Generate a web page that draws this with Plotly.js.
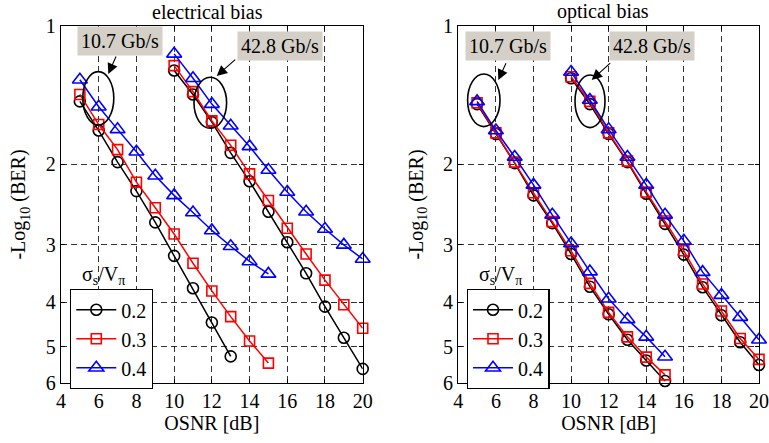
<!DOCTYPE html>
<html>
<head>
<meta charset="utf-8">
<script src="https://cdn.plot.ly/plotly-3.0.1.min.js"></script>
<style>html,body{margin:0;padding:0;background:#fff;}#chart{width:769px;height:443px;}</style>
</head>
<body>
<div id="chart"></div>
<script>
// ---- data ----
const osnr10 = [5, 6, 7, 8, 9, 10, 11, 12, 13, 14, 15];
const osnr40 = [10, 11, 12, 13, 14, 15, 16, 17, 18, 19, 20];
const sigmaLabels = ['0.2', '0.3', '0.4'];

// electrical bias
const elec10_s02 = [1.46, 1.69, 1.98, 2.29, 2.68, 3.17, 3.73, 4.43, 5.25];
const elec10_s03 = [1.41, 1.64, 1.86, 2.19, 2.49, 2.84, 3.29, 3.78, 4.30, 4.86, 5.43];
const elec10_s04 = [1.31, 1.50, 1.68, 1.88, 2.12, 2.34, 2.55, 2.79, 3.02, 3.26, 3.47];
const elec40_s02 = [1.25, 1.41, 1.62, 1.89, 2.18, 2.54, 2.96, 3.46, 4.09, 4.78, 5.59];
const elec40_s03 = [1.22, 1.39, 1.61, 1.82, 2.10, 2.40, 2.76, 3.14, 3.58, 4.05, 4.56];
const elec40_s04 = [1.15, 1.30, 1.48, 1.65, 1.83, 2.06, 2.30, 2.54, 2.77, 3.00, 3.22];

// optical bias
const opt10_s02 = [1.48, 1.72, 1.99, 2.34, 2.69, 3.14, 3.70, 4.25, 4.83, 5.36, 5.94];
const opt10_s03 = [1.47, 1.71, 1.98, 2.31, 2.67, 3.09, 3.64, 4.21, 4.76, 5.27, 5.76];
const opt10_s04 = [1.46, 1.69, 1.93, 2.22, 2.58, 2.98, 3.43, 3.93, 4.36, 4.76, 5.26];
const opt40_s02 = [1.30, 1.48, 1.72, 1.98, 2.32, 2.70, 3.15, 3.71, 4.27, 4.89, 5.48];
const opt40_s03 = [1.29, 1.46, 1.71, 1.97, 2.30, 2.66, 3.09, 3.65, 4.18, 4.80, 5.33];
const opt40_s04 = [1.26, 1.45, 1.68, 1.93, 2.22, 2.58, 2.94, 3.44, 3.86, 4.31, 4.83];

const xTicks = [4, 6, 8, 10, 12, 14, 16, 18, 20];
const yTicks = [1, 2, 3, 4, 5, 6];

// ---- styling ----
const FONT = 'Liberation Serif';
const colors = ['#000000', '#ff0000', '#0000ff'];
const symbols = ['circle-open', 'square-open', 'triangle-up-open'];
const msizes = [11, 10, 13];

function mk(x, y, i, xa, ya, leg, grp, show) {
  return {
    x: x.slice(0, y.length), y: y, type: 'scatter', mode: 'lines+markers',
    name: sigmaLabels[i], legendgroup: grp + i, showlegend: show, legend: leg,
    xaxis: xa, yaxis: ya, cliponaxis: false,
    line: {color: colors[i], width: 1.5},
    marker: {symbol: symbols[i], size: msizes[i], color: colors[i], line: {color: colors[i], width: 1.6}}
  };
}

const data = [
  mk(osnr10, elec10_s02, 0, 'x', 'y', 'legend', 'E', true),
  mk(osnr40, elec40_s02, 0, 'x', 'y', 'legend', 'E', false),
  mk(osnr10, elec10_s03, 1, 'x', 'y', 'legend', 'E', true),
  mk(osnr40, elec40_s03, 1, 'x', 'y', 'legend', 'E', false),
  mk(osnr10, elec10_s04, 2, 'x', 'y', 'legend', 'E', true),
  mk(osnr40, elec40_s04, 2, 'x', 'y', 'legend', 'E', false),
  mk(osnr10, opt10_s02, 0, 'x2', 'y2', 'legend2', 'O', true),
  mk(osnr40, opt40_s02, 0, 'x2', 'y2', 'legend2', 'O', false),
  mk(osnr10, opt10_s03, 1, 'x2', 'y2', 'legend2', 'O', true),
  mk(osnr40, opt40_s03, 1, 'x2', 'y2', 'legend2', 'O', false),
  mk(osnr10, opt10_s04, 2, 'x2', 'y2', 'legend2', 'O', true),
  mk(osnr40, opt40_s04, 2, 'x2', 'y2', 'legend2', 'O', false)
];

// pixel -> paper helpers (plot area: x 61..759, y 26..383)
const L = 61, R = 759, T = 26, B = 383;
const px = v => (v - L) / (R - L);
const py = v => (B - v) / (B - T);
const F20 = () => ({family: FONT, size: 20, color: '#000'});

function xaxis(domain, anchor) {
  return {
    domain: domain, anchor: anchor, range: [4, 20], tickvals: xTicks, ticktext: xTicks.map(String),
    ticks: 'inside', ticklen: 4, tickcolor: '#000', mirror: 'ticks', showline: true, linecolor: '#000', linewidth: 1.3,
    showgrid: true, gridcolor: '#000', gridwidth: 0.8, griddash: '6px,4px', zeroline: false,
    tickfont: F20(),
    title: {text: 'OSNR [dB]', font: F20(), standoff: 4}
  };
}
function yaxis(anchor) {
  return {
    anchor: anchor, type: 'log', range: [Math.log10(6), 0], tickvals: yTicks, ticktext: yTicks.map(String),
    ticks: 'inside', ticklen: 4, tickcolor: '#000', mirror: 'ticks', showline: true, linecolor: '#000', linewidth: 1.3,
    showgrid: true, gridcolor: '#000', gridwidth: 0.8, griddash: '6px,4px', zeroline: false,
    tickfont: F20(),
    title: {text: '-Log<sub>10</sub> (BER)', font: F20(), standoff: 14}
  };
}

function ell(cx, cy, rx, ry) {
  return {type: 'circle', xref: 'paper', yref: 'paper',
    x0: px(cx - rx), x1: px(cx + rx), y0: py(cy + ry), y1: py(cy - ry),
    line: {color: '#000', width: 1.6}};
}
function note(text, cx, cy) {
  return {text: text, xref: 'paper', yref: 'paper', x: px(cx), y: py(cy), xanchor: 'center', yanchor: 'middle',
    showarrow: false, font: F20()};
}
function box(text, cx, cy) {
  return Object.assign(note(text, cx, cy), {bgcolor: '#d4d0c8', borderpad: 3});
}
function arrow(tx, ty, hx, hy) {
  return {text: '', xref: 'paper', yref: 'paper', x: px(hx), y: py(hy), ax: tx - hx, ay: ty - hy,
    showarrow: true, arrowhead: 2, arrowsize: 1.9, arrowwidth: 1.1, arrowcolor: '#000', standoff: 0};
}
function legendAt(lx, ly) {
  return {x: px(lx), y: py(ly), xanchor: 'left', yanchor: 'top', bgcolor: '#fff', bordercolor: '#000', borderwidth: 1.3,
    font: F20(), itemwidth: 40, tracegroupgap: 0};
}

const layout = {
  width: 769, height: 443,
  margin: {l: L, r: 769 - R, t: T, b: 443 - B},
  paper_bgcolor: '#fff', plot_bgcolor: '#fff',
  font: F20(),
  xaxis: xaxis([0, px(362.7)], 'y'),
  yaxis: yaxis('x'),
  xaxis2: xaxis([px(458.3), 1], 'y2'),
  yaxis2: yaxis('x2'),
  legend: legendAt(70, 289),
  legend2: legendAt(466.7, 289),
  shapes: [
    ell(98.3, 98.3, 15.5, 26.7),
    ell(210.3, 102.8, 16.3, 25.5),
    ell(483.8, 100.3, 16.2, 26.3),
    ell(590, 101.3, 15, 26.3)
  ],
  annotations: [
    note('electrical bias', 207.7, 12),
    note('optical bias', 603.3, 12),
    note('σ<sub>s</sub>/V<sub>π</sub>', 103, 275),
    note('σ<sub>s</sub>/V<sub>π</sub>', 500, 275),
    arrow(116.7, 55, 108.3, 74),
    arrow(236.7, 58.3, 216.7, 76),
    arrow(506.7, 61.7, 498.3, 80),
    arrow(611.7, 61.7, 591.7, 80),
    box('10.7 Gb/s', 119.7, 41.5),
    box('42.8 Gb/s', 280, 46),
    box('10.7 Gb/s', 508.3, 46),
    box('42.8 Gb/s', 652, 46)
  ]
};

Plotly.newPlot('chart', data, layout, {displayModeBar: false, staticPlot: true});
</script>
</body>
</html>
